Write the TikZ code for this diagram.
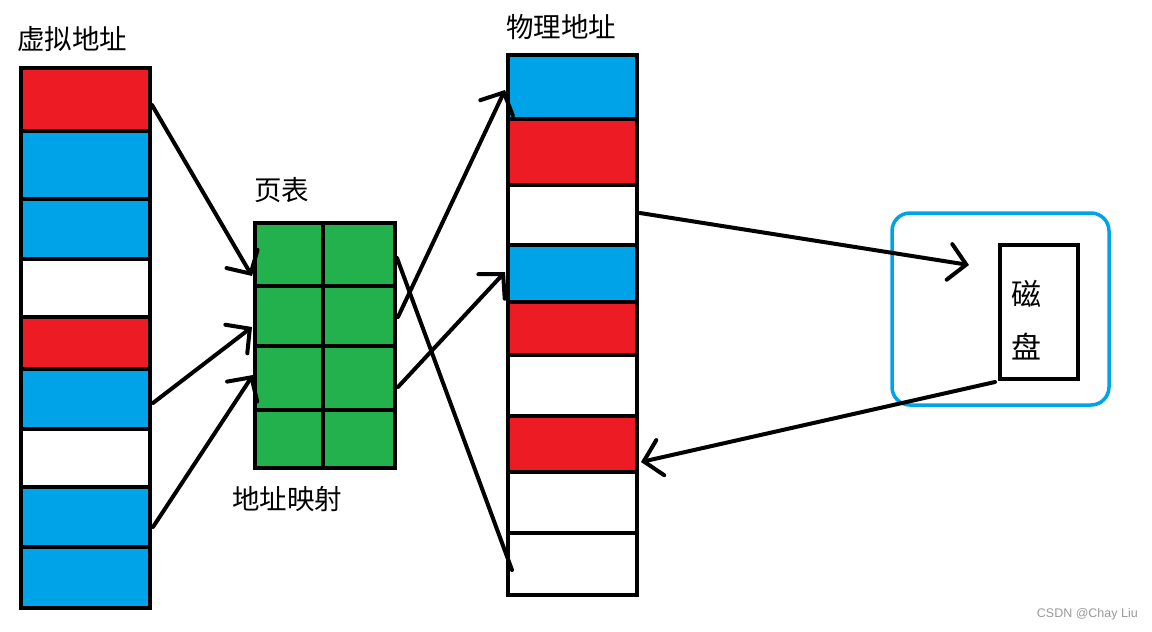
\documentclass[tikz,border=0pt]{standalone}
\usepackage{fontspec}
\newfontfamily\cjk{Noto Sans CJK SC}
\setsansfont{Liberation Sans}
\usetikzlibrary{arrows.meta}
\definecolor{cred}{HTML}{ED1C24}
\definecolor{cblue}{HTML}{00A2E8}
\definecolor{cgreen}{HTML}{22B14C}
\begin{document}
\begin{tikzpicture}[x=1pt,y=-1pt,
  cell/.style={draw=black,line width=4.5pt},
  conn/.style={draw=black,line width=4pt,line cap=round},
  arr/.style={conn,-{Straight Barb[length=17pt,width=36pt,line cap=round]}},
  lbl/.style={font=\cjk\fontsize{27.5}{30}\selectfont,inner sep=0pt}]
\useasboundingbox (0,0) rectangle (1152,632);
% virtual address column
\foreach \a/\b/\c [count=\i] in {68/131/cred,131/199/cblue,199/259/cblue,259/317/white,317/369/cred,369/429/cblue,429/487/white,487/547/cblue,547/608/cblue}{
  \path[cell,fill=\c] (21,\a) rectangle (150,\b) coordinate (v\i);
}
\coordinate (v1a) at (152,105);
\coordinate (v6a) at (153,403);
\coordinate (v8a) at (153,527);
% page table
\foreach \a/\b [count=\i] in {223/286,286/346,346/410,410/468}{
  \path[cell,fill=cgreen] (255,\a) rectangle (323,\b);
  \path[cell,fill=cgreen] (323,\a) rectangle (395,\b);
}
\coordinate (pt1) at (252,276);
\coordinate (pt2) at (252,327);
\coordinate (pt3) at (253,375);
\coordinate (po1) at (398,317);
\coordinate (po2) at (398,387);
\coordinate (po3) at (397,258);
% physical address column
\foreach \a/\b/\c in {55/119/cblue,119/185/cred,185/245/white,245/302/cblue,302/355/cred,355/416/white,416/472/cred,472/533/white,533/595/white}{
  \path[cell,fill=\c] (508,\a) rectangle (637,\b);
}
\coordinate (p1) at (505,90);
\coordinate (p4) at (505,272);
\coordinate (p9) at (512,570);
\coordinate (p3) at (640,213);
\coordinate (p7) at (641,462);
% disk
\draw[cblue,line width=3.5pt,rounded corners=18pt] (892,213) rectangle (1109,405);
\node[draw=black,line width=4pt,minimum width=78pt,minimum height=134pt,inner sep=0pt] (disk) at (1039,312) {};
\node[lbl,font=\cjk\fontsize{30}{32}\selectfont] (c1) at (1026,294) {磁};
\node[lbl,font=\cjk\fontsize{30}{32}\selectfont] (c2) at (1026,347) {盘};
\coordinate (d1) at (969,265);
\coordinate (d2) at (995,382);
% labels
\node[lbl,anchor=west] (l1) at (17,39) {虚拟地址};
\node[lbl,anchor=west] (l2) at (506,27) {物理地址};
\node[lbl,anchor=west] (l3) at (254,190) {页表};
\node[lbl,anchor=west] (l4) at (232,499) {地址映射};
\node[font=\sffamily\fontsize{12.5}{14}\selectfont,text=black!40,anchor=east,inner sep=0pt] (wm) at (1138,614) {CSDN @Chay Liu};
% connectors
\draw[arr] (v1a) -- (pt1);
\draw[arr] (v6a) -- (pt2);
\draw[arr] (v8a) -- (pt3);
\draw[arr] (po1) -- (p1);
\draw[arr] (po2) -- (p4);
\draw[conn] (po3) -- (p9);
\draw[arr] (p3) -- (d1);
\draw[arr] (d2) -- (p7);
\end{tikzpicture}
\end{document}
